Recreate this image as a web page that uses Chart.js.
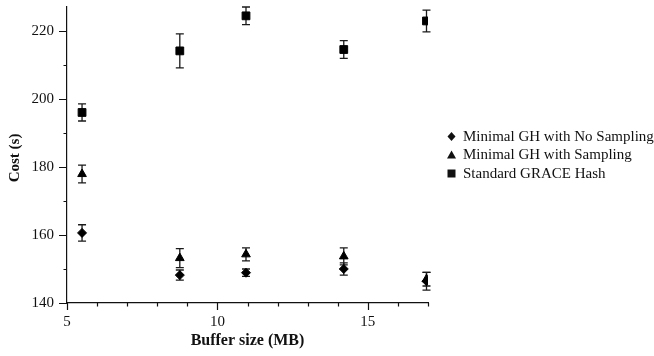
<!DOCTYPE html>
<html>
<head>
<meta charset="utf-8">
<script src="https://cdn.jsdelivr.net/npm/chart.js@4/dist/chart.umd.min.js"></script>
<style>
  html, body { margin: 0; padding: 0; background: #fff; }
  #wrap { width: 654px; height: 356px; }
</style>
</head>
<body>
<div id="wrap"><canvas id="costChart" width="654" height="356"></canvas></div>
<script>
// buffer sizes (MB) and measured cost (s) with error half-widths
const bufferSizes = [5.5, 8.75, 10.95, 14.2, 16.95];
const noSampling = [160.6, 148.2, 148.9, 150.0, 146.4];
const noSamplingErr = [2.4, 1.5, 1.1, 1.8, 2.6];
const withSampling = [177.9, 153.2, 154.3, 153.7, 147.0];
const withSamplingErr = [2.6, 2.8, 1.9, 2.5, 2.0];
const graceHash = [196.0, 214.1, 224.4, 214.5, 222.9];
const graceHashErr = [2.5, 5.0, 2.6, 2.6, 3.2];

const seriesNames = ['Minimal GH with No Sampling', 'Minimal GH with Sampling', 'Standard GRACE Hash'];
const xLabels = [5, 10, 15];
const yLabels = [140, 160, 180, 200, 220];

const serif = "'Liberation Serif', 'DejaVu Serif', serif";

function toPoints(vals) {
    return bufferSizes.map((x, i) => ({ x: x, y: vals[i] }));
}

// vertical error bars with caps
const errorBars = {
    id: 'errorBars',
    beforeDatasetsDraw(chart) {
        const ctx = chart.ctx;
        const ys = chart.scales.y, xs = chart.scales.x;
        ctx.save();
        ctx.strokeStyle = '#1a1a1a';
        ctx.lineWidth = 1.3;
        chart.data.datasets.forEach(ds => {
            ds.data.forEach((p, i) => {
                const e = ds.errors[i];
                const px = xs.getPixelForValue(p.x);
                const top = ys.getPixelForValue(p.y + e);
                const bot = ys.getPixelForValue(p.y - e);
                ctx.beginPath();
                ctx.moveTo(px, top); ctx.lineTo(px, bot);
                ctx.moveTo(px - 4, top); ctx.lineTo(px + 4, top);
                ctx.moveTo(px - 4, bot); ctx.lineTo(px + 4, bot);
                ctx.stroke();
            });
        });
        ctx.restore();
    }
};

// major / minor tick marks, axis titles and legend
const decorations = {
    id: 'decorations',
    afterDraw(chart) {
        const ctx = chart.ctx;
        const xs = chart.scales.x, ys = chart.scales.y;
        const area = chart.chartArea;
        ctx.save();
        ctx.strokeStyle = '#111';
        ctx.lineWidth = 1.2;
        ctx.beginPath();
        xs.ticks.forEach(t => {
            const px = Math.round(xs.getPixelForValue(t.value)) + 0.5;
            const len = xLabels.includes(t.value) ? 7 : 3.5;
            ctx.moveTo(px, area.bottom); ctx.lineTo(px, area.bottom + len);
        });
        ys.ticks.forEach(t => {
            const py = Math.round(ys.getPixelForValue(t.value)) + 0.5;
            const len = yLabels.includes(t.value) ? 8 : 3.5;
            ctx.moveTo(area.left, py); ctx.lineTo(area.left - len, py);
        });
        ctx.stroke();

        ctx.fillStyle = '#111';
        ctx.textAlign = 'center';
        ctx.textBaseline = 'middle';
        ctx.font = 'bold 16px ' + serif;
        ctx.fillText('Buffer size (MB)', (area.left + area.right) / 2, 341);
        ctx.save();
        ctx.translate(15, 158);
        ctx.rotate(-Math.PI / 2);
        ctx.font = 'bold 15px ' + serif;
        ctx.fillText('Cost (s)', 0, 0);
        ctx.restore();

        // legend
        ctx.font = '15px ' + serif;
        ctx.textAlign = 'left';
        const rows = [136.5, 155, 173.5];
        chart.data.datasets.forEach((ds, i) => {
            const mx = 451.5, my = rows[i];
            ctx.beginPath();
            if (ds.pointStyle === 'rectRot') {
                ctx.moveTo(mx, my - 4.5); ctx.lineTo(mx + 4, my);
                ctx.lineTo(mx, my + 4.5); ctx.lineTo(mx - 4, my);
            } else if (ds.pointStyle === 'triangle') {
                ctx.moveTo(mx, my - 4.5); ctx.lineTo(mx + 4.5, my + 3.5);
                ctx.lineTo(mx - 4.5, my + 3.5);
            } else {
                ctx.rect(mx - 4, my - 4, 8, 8);
            }
            ctx.closePath();
            ctx.fill();
            ctx.fillText(ds.label, 463, my + 0.5);
        });
        ctx.restore();
    }
};

const ctx = document.getElementById('costChart').getContext('2d');
const costChart = new Chart(ctx, {
    type: 'scatter',
    data: {
        datasets: [
            {
                label: seriesNames[0],
                data: toPoints(noSampling),
                errors: noSamplingErr,
                pointStyle: 'rectRot',
                pointRadius: 4.5,
                backgroundColor: '#000',
                borderColor: '#000',
                borderWidth: 1
            },
            {
                label: seriesNames[1],
                data: toPoints(withSampling),
                errors: withSamplingErr,
                pointStyle: 'triangle',
                pointRadius: 5,
                backgroundColor: '#000',
                borderColor: '#000',
                borderWidth: 1
            },
            {
                label: seriesNames[2],
                data: toPoints(graceHash),
                errors: graceHashErr,
                pointStyle: 'rect',
                pointRadius: 5.5,
                backgroundColor: '#000',
                borderColor: '#000',
                borderWidth: 1
            }
        ]
    },
    options: {
        responsive: false,
        animation: false,
        devicePixelRatio: 1,
        layout: { padding: { top: 7, right: 226, bottom: 0, left: 0 } },
        plugins: {
            legend: { display: false },
            tooltip: { enabled: false }
        },
        scales: {
            x: {
                type: 'linear',
                min: 5,
                max: 17,
                afterFit(scale) {
                    scale.height = 53;
                    scale.paddingLeft = 0;
                    scale.paddingRight = 0;
                },
                grid: { display: false },
                border: { display: true, color: '#111', width: 1.2 },
                ticks: {
                    stepSize: 1,
                    includeBounds: false,
                    autoSkip: false,
                    maxRotation: 0,
                    padding: 2,
                    color: '#111',
                    font: { family: serif, size: 15 },
                    callback: v => xLabels.includes(v) ? String(v) : ''
                }
            },
            y: {
                type: 'linear',
                min: 140,
                max: 227,
                afterFit(scale) {
                    scale.width = 67;
                    scale.paddingTop = 0;
                    scale.paddingBottom = 0;
                },
                grid: { display: false },
                border: { display: true, color: '#111', width: 1.2 },
                ticks: {
                    stepSize: 10,
                    includeBounds: false,
                    autoSkip: false,
                    padding: 5,
                    color: '#111',
                    font: { family: serif, size: 15 },
                    callback: v => yLabels.includes(v) ? String(v) : ''
                }
            }
        }
    },
    plugins: [errorBars, decorations]
});
</script>
</body>
</html>
